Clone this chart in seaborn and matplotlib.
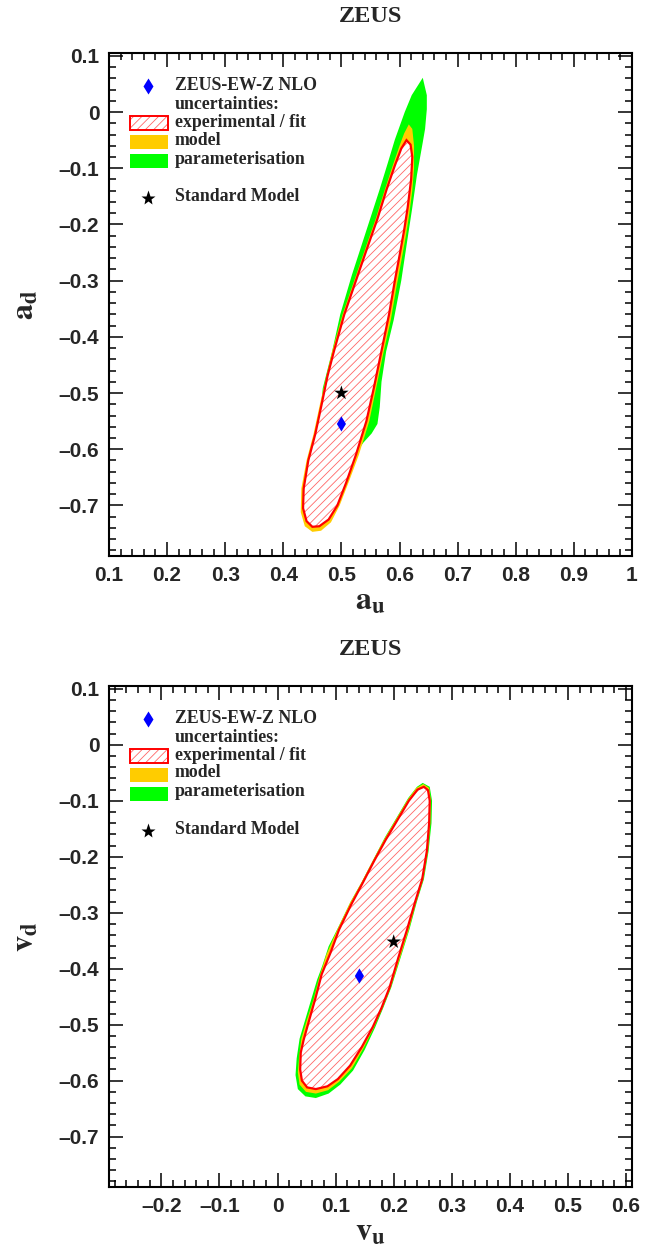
import numpy as np
import matplotlib
matplotlib.use('Agg')
import matplotlib.pyplot as plt
import seaborn as sns
from matplotlib.patches import Polygon, Rectangle
from matplotlib.ticker import MultipleLocator, FuncFormatter

# ---- data ----
# top panel: (a_u, a_d) contours
exp_a = [(0.612, -0.050), (0.619, -0.058), (0.622, -0.080), (0.620, -0.120), (0.614, -0.170),
         (0.608, -0.210), (0.601, -0.250), (0.592, -0.300), (0.582, -0.360), (0.568, -0.430),
         (0.556, -0.490), (0.543, -0.550), (0.525, -0.610), (0.508, -0.660), (0.493, -0.700),
         (0.478, -0.725), (0.462, -0.737), (0.450, -0.738), (0.440, -0.728), (0.434, -0.705),
         (0.435, -0.670), (0.443, -0.620), (0.455, -0.573), (0.466, -0.520), (0.476, -0.470),
         (0.487, -0.426), (0.505, -0.360), (0.525, -0.300), (0.545, -0.240), (0.562, -0.190),
         (0.578, -0.137), (0.592, -0.095), (0.603, -0.065)]
mod_a = [(0.616, -0.022), (0.622, -0.030), (0.625, -0.060), (0.625, -0.100), (0.622, -0.140),
         (0.617, -0.180), (0.611, -0.220), (0.604, -0.260), (0.595, -0.310), (0.585, -0.370),
         (0.572, -0.430), (0.560, -0.490), (0.548, -0.550), (0.530, -0.610), (0.512, -0.660),
         (0.497, -0.700), (0.482, -0.730), (0.465, -0.745), (0.450, -0.747), (0.437, -0.737),
         (0.430, -0.712), (0.431, -0.670), (0.440, -0.620), (0.452, -0.573), (0.463, -0.520),
         (0.474, -0.470), (0.484, -0.426), (0.502, -0.360), (0.522, -0.300), (0.542, -0.240),
         (0.559, -0.190), (0.575, -0.137), (0.590, -0.090), (0.600, -0.060), (0.608, -0.038)]
par_a = [(0.640, 0.061), (0.647, 0.030), (0.647, 0.005), (0.644, -0.030), (0.640, -0.054),
         (0.630, -0.112), (0.622, -0.170), (0.613, -0.231), (0.603, -0.300), (0.590, -0.370),
         (0.577, -0.426), (0.569, -0.480), (0.566, -0.525), (0.562, -0.555), (0.552, -0.572),
         (0.538, -0.588), (0.526, -0.606), (0.517, -0.628), (0.505, -0.665), (0.490, -0.700),
         (0.475, -0.725), (0.460, -0.735), (0.450, -0.735), (0.442, -0.725), (0.437, -0.705),
         (0.438, -0.670), (0.446, -0.620), (0.457, -0.573), (0.465, -0.520), (0.468, -0.491),
         (0.484, -0.426), (0.498, -0.360), (0.518, -0.290), (0.540, -0.220), (0.566, -0.137),
         (0.580, -0.090), (0.592, -0.049), (0.609, 0.000), (0.621, 0.030)]
fit_a = (0.500, -0.555)
sm_a = (0.500, -0.500)

# bottom panel: (v_u, v_d) contours
exp_v = [(0.252, -0.075), (0.259, -0.081), (0.262, -0.100), (0.261, -0.140), (0.257, -0.190),
         (0.249, -0.240), (0.237, -0.280), (0.223, -0.330), (0.208, -0.380), (0.193, -0.433),
         (0.179, -0.470), (0.164, -0.504), (0.145, -0.540), (0.125, -0.573), (0.104, -0.597),
         (0.086, -0.610), (0.066, -0.615), (0.051, -0.612), (0.042, -0.600), (0.039, -0.580),
         (0.040, -0.550), (0.045, -0.527), (0.055, -0.490), (0.066, -0.450), (0.076, -0.410),
         (0.091, -0.372), (0.106, -0.330), (0.127, -0.285), (0.146, -0.248), (0.166, -0.208),
         (0.186, -0.170), (0.206, -0.135), (0.226, -0.100), (0.241, -0.080)]
mod_v = [(0.251, -0.070), (0.261, -0.077), (0.264, -0.100), (0.263, -0.140), (0.259, -0.190),
         (0.251, -0.240), (0.239, -0.280), (0.226, -0.330), (0.211, -0.380), (0.195, -0.433),
         (0.181, -0.470), (0.166, -0.505), (0.148, -0.542), (0.128, -0.578), (0.106, -0.602),
         (0.087, -0.617), (0.066, -0.623), (0.049, -0.620), (0.038, -0.607), (0.035, -0.585),
         (0.037, -0.560), (0.041, -0.525), (0.051, -0.490), (0.062, -0.455), (0.072, -0.415),
         (0.084, -0.375), (0.103, -0.330), (0.125, -0.282), (0.144, -0.247), (0.164, -0.207),
         (0.184, -0.168), (0.204, -0.133), (0.224, -0.098), (0.239, -0.077)]
par_v = [(0.250, -0.068), (0.262, -0.075), (0.266, -0.100), (0.265, -0.140), (0.260, -0.190),
         (0.252, -0.240), (0.240, -0.280), (0.227, -0.330), (0.212, -0.380), (0.196, -0.433),
         (0.182, -0.470), (0.168, -0.505), (0.150, -0.545), (0.130, -0.582), (0.108, -0.607),
         (0.088, -0.623), (0.066, -0.631), (0.048, -0.628), (0.035, -0.615), (0.031, -0.590),
         (0.033, -0.560), (0.038, -0.525), (0.048, -0.490), (0.058, -0.455), (0.068, -0.420),
         (0.077, -0.395), (0.088, -0.360), (0.105, -0.325), (0.126, -0.280), (0.145, -0.245),
         (0.165, -0.205), (0.185, -0.165), (0.205, -0.130), (0.225, -0.095), (0.240, -0.075)]
fit_v = (0.141, -0.413)
sm_v = (0.200, -0.352)

legend_labels = ['ZEUS-EW-Z NLO', 'uncertainties:', 'experimental / fit', 'model',
                 'parameterisation', 'Standard Model']

GREEN = '#00ff00'
ORANGE = '#ffcc00'
HATCH = '#ff6666'

sns.set_theme(style='ticks')
plt.rcParams['font.family'] = ['Liberation Sans', 'DejaVu Sans']
plt.rcParams['font.weight'] = 'bold'
plt.rcParams['mathtext.fontset'] = 'stix'
plt.rcParams['hatch.linewidth'] = 0.6
SERIF = ['Liberation Serif', 'DejaVu Serif']


def fmt(v, pos):
    if abs(v) < 1e-9:
        return '0'
    return ('%g' % round(v, 3)).replace('-', '\u2013')


def setup_axes(ax, xlim, xlab, ylab):
    ax.set_xlim(*xlim)
    ax.set_ylim(-0.79, 0.105)
    ax.xaxis.set_major_locator(MultipleLocator(0.1))
    ax.xaxis.set_minor_locator(MultipleLocator(0.02))
    ax.yaxis.set_major_locator(MultipleLocator(0.1))
    ax.yaxis.set_minor_locator(MultipleLocator(0.02))
    ax.xaxis.set_major_formatter(FuncFormatter(fmt))
    ax.yaxis.set_major_formatter(FuncFormatter(fmt))
    ax.tick_params(which='both', direction='in', top=True, right=True, width=1.1, color='black')
    ax.tick_params(which='major', length=10, labelsize=15, pad=7)
    ax.tick_params(which='minor', length=5)
    for s in ax.spines.values():
        s.set_linewidth(1.5)
        s.set_color('black')
    ax.set_xlabel(xlab, fontsize=23)
    ax.set_ylabel(ylab, fontsize=23, rotation=90)
    ax.xaxis.set_label_coords(0.5, -0.09)
    ax.xaxis.label.set_va('center')
    ax.yaxis.set_label_coords(-0.16, 0.5)
    ax.yaxis.label.set_va('center')
    ax.text(0.5, 1.073, 'ZEUS', transform=ax.transAxes, ha='center', va='center',
            fontsize=17.5, fontweight='bold', family=SERIF)


def draw_contours(ax, par, mod, exp, fit, sm):
    ax.add_patch(Polygon(par, closed=True, facecolor=GREEN, edgecolor='none', zorder=1))
    ax.add_patch(Polygon(mod, closed=True, facecolor=ORANGE, edgecolor='none', zorder=2))
    ax.add_patch(Polygon(exp, closed=True, facecolor='white', edgecolor=HATCH, hatch='////',
                         linewidth=0, zorder=3))
    ax.add_patch(Polygon(exp, closed=True, facecolor='none', edgecolor='red', linewidth=1.6,
                         zorder=4))
    sns.scatterplot(x=[sm[0]], y=[sm[1]], marker='*', color='black', s=120, edgecolor='none',
                    ax=ax, zorder=5)
    sns.scatterplot(x=[fit[0]], y=[fit[1]], marker='d', color='blue', s=60, edgecolor='none',
                    ax=ax, zorder=5)


def draw_legend(ax):
    tr = ax.transAxes
    rows = [0.936, 0.897, 0.861, 0.827, 0.789, 0.714]
    for lab, y in zip(legend_labels, rows):
        ax.text(0.126, y, lab, transform=tr, ha='left', va='center', fontsize=12.8,
                fontweight='bold', family=SERIF)
    ax.plot([0.0746], [0.934], marker='d', color='blue', markersize=8, mec='none',
            transform=tr, clip_on=False)
    ax.plot([0.0746], [0.711], marker='*', color='black', markersize=11, mec='none',
            transform=tr)
    w, h = 0.0727, 0.028
    ax.add_patch(Rectangle((0.040, 0.861 - h / 2), w, h, transform=tr, facecolor='white',
                           edgecolor=HATCH, hatch='////', linewidth=0))
    ax.add_patch(Rectangle((0.040, 0.861 - h / 2), w, h, transform=tr, facecolor='none',
                           edgecolor='red', linewidth=1.4))
    ax.add_patch(Rectangle((0.040, 0.823 - h / 2), w, h, transform=tr, facecolor=ORANGE,
                           edgecolor='none'))
    ax.add_patch(Rectangle((0.040, 0.785 - h / 2), w, h, transform=tr, facecolor=GREEN,
                           edgecolor='none'))


fig = plt.figure(figsize=(6.52, 12.54), dpi=100)
ax1 = fig.add_axes([0.1672, 0.5566, 0.802, 0.4011])
ax2 = fig.add_axes([0.1672, 0.0534, 0.802, 0.3995])

draw_contours(ax1, par_a, mod_a, exp_a, fit_a, sm_a)
setup_axes(ax1, (0.1, 1.0), r'$\mathbf{a_u}$', r'$\mathbf{a_d}$')
draw_legend(ax1)

draw_contours(ax2, par_v, mod_v, exp_v, fit_v, sm_v)
setup_axes(ax2, (-0.29, 0.61), r'$\mathbf{v_u}$', r'$\mathbf{v_d}$')
draw_legend(ax2)

fig.savefig('out.png', dpi=100)
